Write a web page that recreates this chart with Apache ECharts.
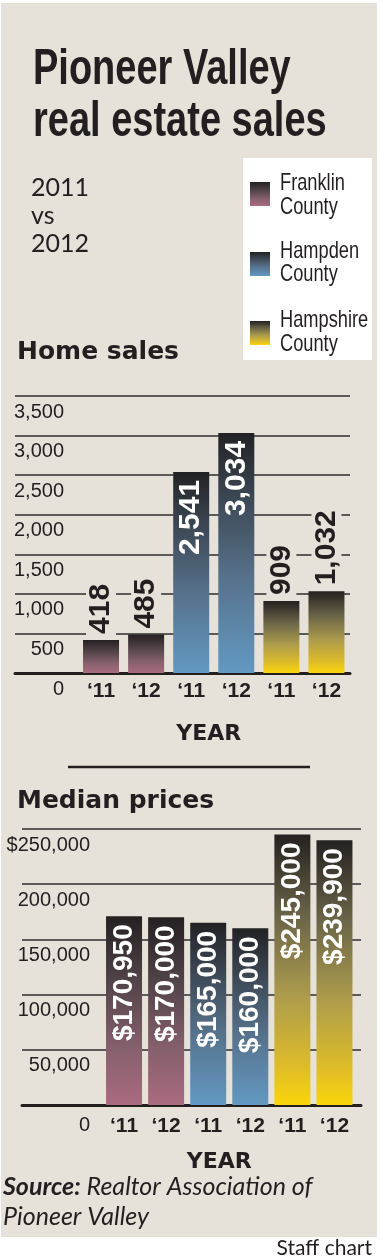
<!DOCTYPE html>
<html><head><meta charset="utf-8">
<script src="https://cdn.jsdelivr.net/npm/echarts@6/dist/echarts.min.js"></script>
<style>html,body{margin:0;padding:0;background:#fff}#c{width:380px;height:1260px}</style>
</head><body><div id="c"></div>
<script>
// ---- data ----
const yearLabels = ['\u201811','\u201812','\u201811','\u201812','\u201811','\u201812'];
const barCounty = [0,0,1,1,2,2];
const countyNames = ['Franklin\nCounty','Hampden\nCounty','Hampshire\nCounty'];
const homeSales = [418,485,2541,3034,909,1032];
const medianPrices = [170950,170000,165000,160000,245000,239900];
const salesAxis = {min:0, max:3500, interval:500};
const priceAxis = {min:0, max:250000, interval:50000};

// ---- style ----
const BG = '#e6e2da';
const INK = '#231f20';
const SANS = "'Liberation Sans',Arial,sans-serif";
const GEO = "'DejaVu Sans',sans-serif";
const HUM = "Lato,'Open Sans',sans-serif";
const countyStops = [
  [[0,'#242022'],[0.35,'#524448'],[0.7,'#86606d'],[1,'#aa6b7f']],
  [[0,'#222225'],[0.3,'#3f4b59'],[0.6,'#56718b'],[1,'#6299c2']],
  [[0,'#242120'],[0.3,'#6a6448'],[0.6,'#ad9c4c'],[0.85,'#dcbb2a'],[1,'#fad50a']]
];
function grad(stops){
  return new echarts.graphic.LinearGradient(0,0,0,1, stops.map(s=>({offset:s[0],color:s[1]})));
}
const fmt = v => v.toLocaleString('en-US');

function barLabel(inside, size, text){
  const base = {show:true, rotate:90, verticalAlign:'middle', fontFamily:SANS, fontWeight:'bold', fontSize:size, formatter:text};
  if (inside) return Object.assign(base, {position:'insideTop', align:'right', distance:8, color:'#fff'});
  return Object.assign(base, {position:'top', align:'left', distance:4, color:INK, backgroundColor:BG, padding:[0,2,0,2]});
}

const salesData = homeSales.map((v,i)=>({
  value:v, itemStyle:{color:grad(countyStops[barCounty[i]])},
  label:barLabel(v>2000, 30, fmt(v))
}));
const priceData = medianPrices.map((v,i)=>({
  value:v, itemStyle:{color:grad(countyStops[barCounty[i]])},
  label:barLabel(true, 28, '$'+fmt(v))
}));

const gridLine = {show:true, lineStyle:{color:'#2e2c2c', width:1.6}};
const baseLine = {show:true, lineStyle:{color:INK, width:3}};
const tickLabel = {fontFamily:SANS, fontSize:20, color:INK};

const chart = echarts.init(document.getElementById('c'), null, {renderer:'canvas'});

const legendGraphics = [];
const swY = [182, 252, 321];
const txY = [[183,207],[251,274],[320,344]];
countyNames.forEach((n,i)=>{
  legendGraphics.push({type:'rect', shape:{x:250,y:swY[i],width:20,height:24}, style:{fill:grad(countyStops[i])}});
  n.split('\n').forEach((l,j)=>legendGraphics.push({type:'text', x:280, y:txY[i][j], scaleX:0.76,
    style:{text:l, font:'24px '+SANS, fill:INK, verticalAlign:'middle'}}));
});

chart.setOption({
  animation:false,
  backgroundColor:'transparent',
  graphic:[
    {type:'rect', z:-10, shape:{x:1,y:3,width:376,height:1234}, style:{fill:BG}},
    {type:'text', x:33, y:70, scaleX:0.76, style:{text:'Pioneer Valley', font:'bold 50px '+SANS, fill:INK, verticalAlign:'middle'}},
    {type:'text', x:33, y:122, scaleX:0.76, style:{text:'real estate sales', font:'bold 50px '+SANS, fill:INK, verticalAlign:'middle'}},
    {type:'text', x:31, y:188, style:{text:'2011', font:'25px '+HUM, fill:INK, verticalAlign:'middle'}},
    {type:'text', x:31, y:216, style:{text:'vs', font:'25px '+HUM, fill:INK, verticalAlign:'middle'}},
    {type:'text', x:31, y:244, style:{text:'2012', font:'25px '+HUM, fill:INK, verticalAlign:'middle'}},
    {type:'rect', shape:{x:243,y:158,width:129,height:202}, style:{fill:'#fff'}},
    ...legendGraphics,
    {type:'text', x:17, y:352, style:{text:'Home sales', font:'bold 25px '+GEO, fill:INK, verticalAlign:'middle'}},
    {type:'line', shape:{x1:68,y1:767,x2:310,y2:767}, style:{stroke:INK, lineWidth:2.5}},
    {type:'text', x:17, y:801, style:{text:'Median prices', font:'bold 25px '+GEO, fill:INK, verticalAlign:'middle'}},
    {type:'text', x:3, y:1187, style:{text:'{b|Source:} Realtor Association of', font:'italic 25px '+HUM, fill:INK, verticalAlign:'middle',
      rich:{b:{fontFamily:HUM, fontStyle:'italic', fontWeight:'bold', fontSize:25, fill:INK, color:INK}}}},
    {type:'text', x:3, y:1217, style:{text:'Pioneer Valley', font:'italic 25px '+HUM, fill:INK, verticalAlign:'middle'}},
    {type:'text', x:372, y:1248, style:{text:'Staff chart', font:'21px '+HUM, fill:INK, align:'right', verticalAlign:'middle'}}
  ],
  grid:[
    {left:15, right:30, top:396, height:277},
    {left:78.5, right:31, top:396, height:277},
    {left:22, right:19, top:829, height:276},
    {left:103, right:24.5, top:829, height:276}
  ],
  xAxis:[
    {gridIndex:0, type:'category', data:[''], axisLine:baseLine, axisTick:{show:false}, axisLabel:{show:false}},
    {gridIndex:1, type:'category', data:yearLabels, axisLine:{show:false}, axisTick:{show:false},
     axisLabel:Object.assign({}, tickLabel, {fontWeight:'bold', fontSize:21, margin:8, interval:0}),
     name:'YEAR', nameLocation:'middle', nameGap:61,
     nameTextStyle:{fontFamily:GEO, fontWeight:'bold', fontSize:22, color:INK, verticalAlign:'middle', padding:[0,10,0,0]}},
    {gridIndex:2, type:'category', data:[''], axisLine:baseLine, axisTick:{show:false}, axisLabel:{show:false}},
    {gridIndex:3, type:'category', data:yearLabels, axisLine:{show:false}, axisTick:{show:false},
     axisLabel:Object.assign({}, tickLabel, {fontWeight:'bold', fontSize:21, margin:11, interval:0}),
     name:'YEAR', nameLocation:'middle', nameGap:57,
     nameTextStyle:{fontFamily:GEO, fontWeight:'bold', fontSize:22, color:INK, verticalAlign:'middle', padding:[0,20,0,0]}}
  ],
  yAxis:[
    Object.assign({gridIndex:0, type:'value', splitLine:gridLine, axisLine:{show:false}, axisTick:{show:false},
      axisLabel:Object.assign({}, tickLabel, {inside:true, align:'right', margin:49, verticalAlign:'top', padding:[6,0,0,0], formatter:v=>fmt(v)})}, salesAxis),
    Object.assign({gridIndex:1, type:'value', show:false, splitLine:{show:false}}, salesAxis),
    Object.assign({gridIndex:2, type:'value', splitLine:gridLine, axisLine:{show:false}, axisTick:{show:false},
      axisLabel:Object.assign({}, tickLabel, {inside:true, align:'right', margin:68, verticalAlign:'top', padding:[6,0,0,0],
        formatter:v=> v===0 ? '{z|0}' : (v===priceAxis.max ? '$'+fmt(v) : fmt(v)),
        rich:{z:{fontFamily:SANS, fontSize:20, color:INK, padding:[4,0,0,0]}}})}, priceAxis),
    Object.assign({gridIndex:3, type:'value', show:false, splitLine:{show:false}}, priceAxis)
  ],
  series:[
    {type:'bar', xAxisIndex:1, yAxisIndex:1, barWidth:36, data:salesData, z:3},
    {type:'bar', xAxisIndex:3, yAxisIndex:3, barWidth:36, data:priceData, z:3}
  ]
});
</script></body></html>
